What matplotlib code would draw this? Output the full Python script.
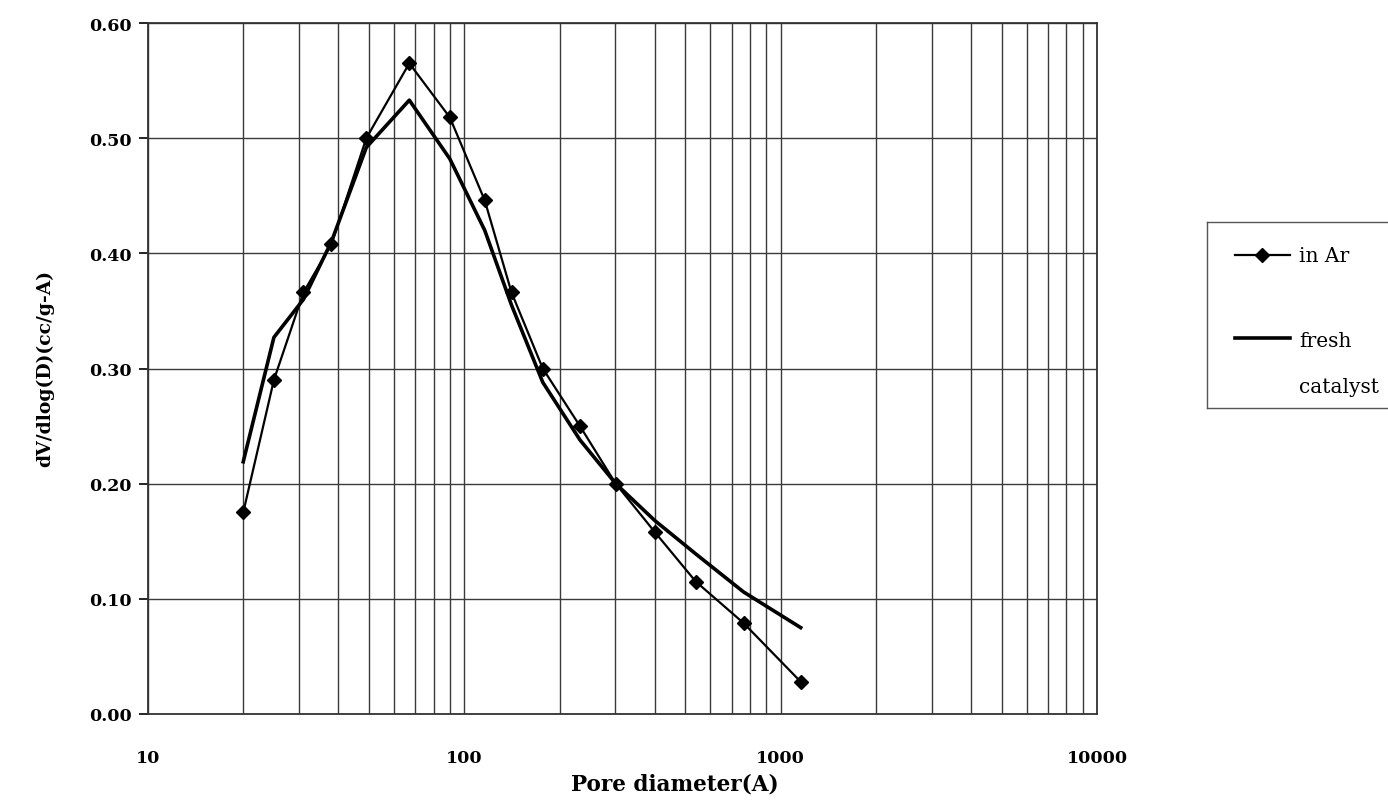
import matplotlib
matplotlib.use("Agg")
import matplotlib.pyplot as plt
from matplotlib.lines import Line2D
from matplotlib.ticker import FixedLocator, LogLocator, NullFormatter

pore_diameter = [20, 25, 31, 38, 49, 67, 90, 116, 141, 177, 232, 301, 400, 539, 763, 1157]
in_ar = [0.175, 0.290, 0.366, 0.408, 0.500, 0.565, 0.518, 0.446, 0.366, 0.300, 0.250, 0.200, 0.158, 0.115, 0.079, 0.028]
fresh_catalyst = [0.219, 0.327, 0.360, 0.410, 0.492, 0.533, 0.482, 0.420, 0.355, 0.288, 0.238, 0.200, 0.168, 0.139, 0.106, 0.075]
y_ticks = [0.0, 0.1, 0.2, 0.3, 0.4, 0.5, 0.6]
x_ticks = [10, 100, 1000, 10000]

plt.rcParams['font.family'] = ['DejaVu Serif']

fig = plt.figure(figsize=(13.88, 8.04), dpi=100)
ax = fig.add_axes([148/1388, 1-715/804, (1097-148)/1388, (715-24)/804])

ax.plot(pore_diameter, in_ar, color='black', lw=1.6, marker='D', ms=7, zorder=3)
ax.plot(pore_diameter, fresh_catalyst, color='black', lw=2.6, zorder=3)

ax.set_xscale('log')
ax.set_xlim(10, 10000)
ax.set_ylim(0, 0.6)
ax.xaxis.set_major_locator(FixedLocator(x_ticks))
ax.xaxis.set_minor_locator(LogLocator(base=10, subs=range(2, 10)))
ax.xaxis.set_minor_formatter(NullFormatter())
ax.set_xticklabels([str(v) for v in x_ticks], fontweight='bold', fontsize=12.5)
ax.set_yticks(y_ticks)
ax.set_yticklabels([f"{v:.2f}" for v in y_ticks], fontweight='bold', fontsize=12.5)
ax.tick_params(axis='x', which='both', length=0, pad=25)
ax.tick_params(axis='y', which='major', length=6.5, width=1.2, direction='out', pad=5)
ax.grid(True, which='major', axis='both', color='#3a3a3a', lw=1.0)
ax.grid(True, which='minor', axis='x', color='#3a3a3a', lw=1.0)
for s in ax.spines.values():
    s.set_color('#333333')
    s.set_linewidth(1.3)

ax.set_xlabel('Pore diameter(A)', fontweight='bold', fontsize=15.5)
ax.xaxis.set_label_coords((675-148)/949, (715-774)/691)
ax.set_ylabel('dV/dlog(D)(cc/g-A)', fontweight='bold', fontsize=13.5)
ax.yaxis.set_label_coords((54-148)/949, (715-368)/691)

# legend box
lax = fig.add_axes([1207/1388, 1-409/804, (1395-1207)/1388, (409-223)/804])
lax.set_xlim(1207, 1395)
lax.set_ylim(409, 223)
lax.set_xticks([])
lax.set_yticks([])
for s in lax.spines.values():
    s.set_color('#555555')
    s.set_linewidth(1.0)
lax.add_line(Line2D([1235, 1290], [256, 256], color='black', lw=1.6))
lax.plot([1262], [256], marker='D', ms=7, color='black')
lax.add_line(Line2D([1235, 1290], [339, 339], color='black', lw=2.6))
lax.text(1299, 257, 'in Ar', fontsize=14.5, va='center', ha='left')
lax.text(1299, 342, 'fresh', fontsize=14.5, va='center', ha='left')
lax.text(1299, 388, 'catalyst', fontsize=14.5, va='center', ha='left')

fig.savefig('out.png', dpi=100, facecolor='white')
